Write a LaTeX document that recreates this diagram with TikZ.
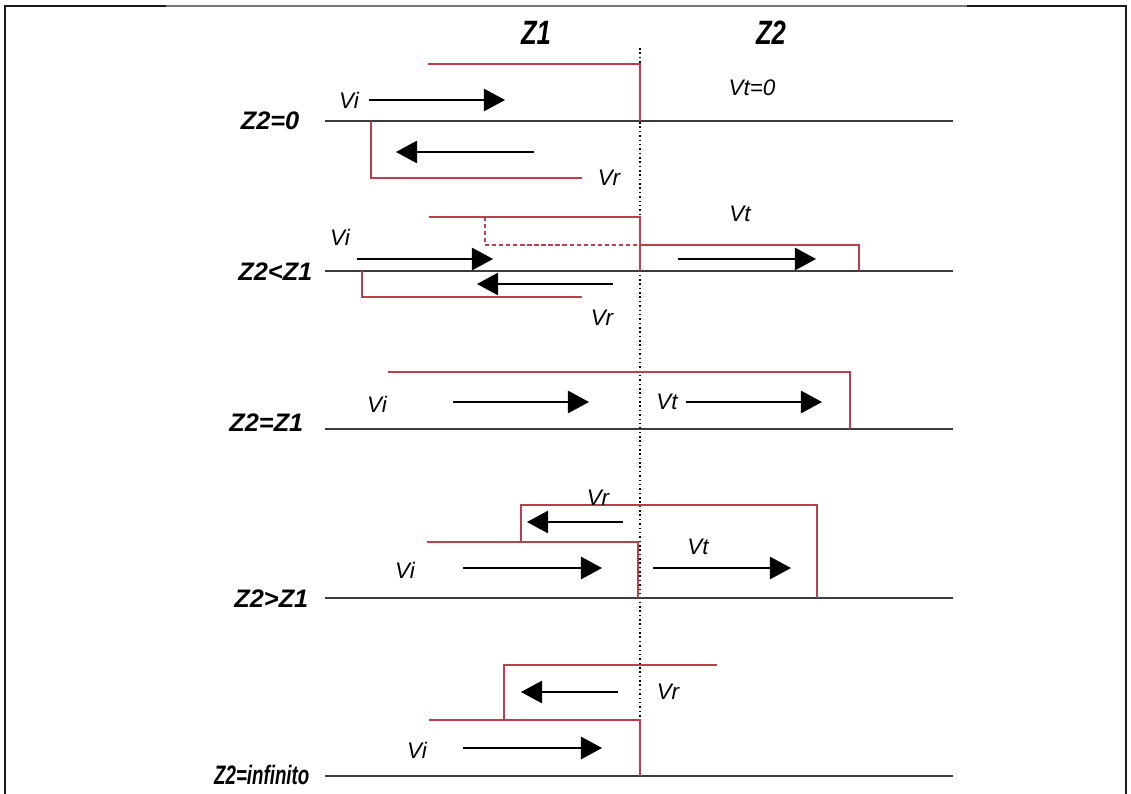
\documentclass[tikz,border=0pt]{standalone}
\usepackage{fontspec}
\setmainfont{Liberation Sans}
\newfontfamily\narrowfont[FakeStretch=0.76]{Liberation Sans}
\newfontfamily\tightfont[FakeStretch=0.7]{Liberation Sans}
\usetikzlibrary{arrows.meta}
\definecolor{cred}{HTML}{B8404E}
\definecolor{cline}{HTML}{3C3C3C}
\definecolor{cframe}{HTML}{1A1A1A}
\tikzset{
  every picture/.style={line width=1pt},
  base/.style={draw=cline, line width=1.4pt},
  wave/.style={draw=cred, line width=1pt},
  flow/.style={-{Triangle[length=15pt, width=16pt]}, draw=black, line width=1pt},
  lbl/.style={font=\fontsize{16}{18}\selectfont\itshape, inner sep=0pt},
  case/.style={font=\fontsize{18}{20}\selectfont\bfseries\itshape, inner sep=0pt, anchor=east},
  zone/.style={font=\narrowfont\fontsize{24}{26}\selectfont\bfseries\itshape, inner sep=0pt},
}

\begin{document}
\begin{tikzpicture}[x=0.025cm, y=-0.025cm]
  \useasboundingbox (0,0) rectangle (1131,794);
  % frame
  \draw[cframe, line width=1.6pt] (5,794) -- (5,6) -- (166,6);
  \draw[cframe!60, line width=0.8pt] (166,6) -- (967,6);
  \draw[cframe, line width=1.6pt] (967,6) -- (1126,6) -- (1126,794);
  % zones
  \node[zone] (z1) at (536,33) {Z1};
  \node[zone] (z2) at (771,33) {Z2};
  \draw[dotted, line width=1.1pt] (640,48) -- (640,776);

  % Z2=0
  \node[case] (c1) at (300,121) {Z2=0};
  \draw[base] (325,121) -- (953,121);
  \draw[wave] (428,64) -- (640,64) -- (640,121);
  \draw[wave] (371,121) -- (371,178) -- (582,178);
  \node[lbl] (vi1) at (349,100) {Vi};
  \draw[flow] (369,100) -- (505,100);
  \draw[flow] (534,152) -- (396,152);
  \node[lbl] (vr1) at (609,178) {Vr};
  \node[lbl] (vt1) at (752,88) {Vt=0};

  % Z2<Z1
  \node[case] (c2) at (313,272) {Z2<Z1};
  \draw[base] (325,271) -- (953,271);
  \draw[wave] (429,217) -- (640,217) -- (640,271);
  \draw[wave, densely dashed] (485,217) -- (485,245) -- (640,245);
  \draw[wave] (640,245) -- (859,245) -- (859,271);
  \draw[wave] (362,271) -- (362,297) -- (582,297);
  \node[lbl] (vi2) at (340,237) {Vi};
  \draw[flow] (357,259) -- (493,259);
  \draw[flow] (613,284) -- (477,284);
  \node[lbl] (vr2) at (602,318) {Vr};
  \node[lbl] (vt2) at (740,214) {Vt};
  \draw[flow] (678,259) -- (816,259);

  % Z2=Z1
  \node[case] (c3) at (304,423) {Z2=Z1};
  \draw[base] (325,429) -- (953,429);
  \draw[wave] (388,372) -- (850,372) -- (850,429);
  \node[lbl] (vi3) at (377,404) {Vi};
  \draw[flow] (453,402) -- (589,402);
  \node[lbl] (vt3) at (667,402) {Vt};
  \draw[flow] (686,402) -- (822,402);

  % Z2>Z1
  \node[case] (c4) at (309,599) {Z2>Z1};
  \draw[base] (325,598) -- (953,598);
  \draw[wave] (427,542) -- (638,542) -- (638,598);
  \draw[wave] (521,542) -- (521,505) -- (817,505) -- (817,598);
  \node[lbl, anchor=base] (vr4) at (598,505) {Vr};
  \draw[flow] (623,522) -- (527,522);
  \node[lbl] (vi4) at (405,570) {Vi};
  \draw[flow] (463,568) -- (602,568);
  \node[lbl] (vt4) at (698,547) {Vt};
  \draw[flow] (653,568) -- (791,568);

  % Z2=infinito
  \node[case, font=\tightfont\fontsize{19}{21}\selectfont\bfseries\itshape] (c5) at (310,775) {Z2=infinito};
  \draw[base] (325,776) -- (953,776);
  \draw[wave] (429,720) -- (640,720) -- (640,776);
  \draw[wave] (504,720) -- (504,665) -- (717,665);
  \draw[flow] (618,692) -- (521,692);
  \node[lbl] (vr5) at (668,692) {Vr};
  \node[lbl] (vi5) at (417,750) {Vi};
  \draw[flow] (463,748) -- (602,748);
\end{tikzpicture}
\end{document}
